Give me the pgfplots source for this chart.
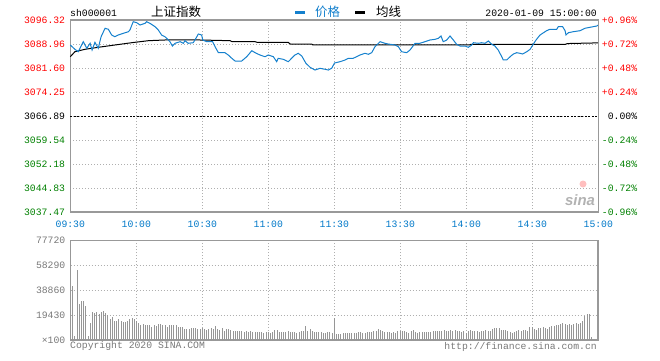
\documentclass[border=0pt]{standalone}
\usepackage{pgfplots}
\pgfplotsset{compat=1.18}
\usepackage{fontspec}
\setmainfont{Liberation Sans}
\newfontfamily\mono{Liberation Mono}
\newfontfamily\cjk{Noto Sans CJK SC}
\definecolor{sred}{RGB}{255,0,0}
\definecolor{sgreen}{RGB}{0,128,0}
\definecolor{sblue}{RGB}{20,128,205}
\definecolor{tblue}{RGB}{0,120,200}
\definecolor{fgray}{RGB}{153,153,153}
\definecolor{ggray}{RGB}{175,175,175}
\definecolor{vgray}{RGB}{150,150,150}
\definecolor{lgray}{RGB}{120,120,120}
\newcommand{\mf}{\mono\fontsize{9.8}{11}\selectfont}
\begin{document}
\begin{tikzpicture}[x=1bp,y=1bp]
\path[use as bounding box] (0,0) rectangle (660,360);
% price axis (left)
\begin{axis}[
  at={(70.3bp,148bp)}, anchor=south west, scale only axis,
  width=528bp, height=192bp,
  xmin=0, xmax=240, ymin=3037.47, ymax=3096.32,
  axis line style={draw=fgray, line width=1.4bp},
  major tick length=0pt,
  xtick={0,30,60,90,120,150,180,210,240},
  xticklabels={09:30,10:00,10:30,11:00,11:30,13:30,14:00,14:30,15:00},
  xticklabel style={font=\mf, text=tblue, inner sep=0pt, yshift=-8.5bp},
  ytick={3037.47,3044.83,3052.18,3059.54,3066.89,3074.25,3081.60,3088.96,3096.32},
  yticklabels={\textcolor{sgreen}{3037.47},\textcolor{sgreen}{3044.83},\textcolor{sgreen}{3052.18},\textcolor{sgreen}{3059.54},\textcolor{black}{3066.89},\textcolor{sred}{3074.25},\textcolor{sred}{3081.60},\textcolor{sred}{3088.96},\textcolor{sred}{3096.32}},
  yticklabel style={font=\mf, inner sep=0pt, xshift=-5bp},
  xmajorgrids, ymajorgrids,
  grid style={draw=ggray, line width=0.9bp, dash pattern=on 1bp off 2bp},
  clip=false,
]
\draw[black, line width=0.9bp, dash pattern=on 2bp off 1.5bp] (axis cs:0,3066.89) -- (axis cs:240,3066.89);
\addplot[black, line width=1bp] coordinates {
(0,3085.07) (2.1,3086.60) (6.7,3087.34) (12.7,3087.95) (20.3,3088.66) (27.9,3089.36) (35.5,3089.98) (43.0,3090.19) (59,3090.19) (72.6,3089.98) (73.5,3089.67) (84.0,3089.67) (84.9,3089.48) (99.0,3089.48) (100,3088.96) (109.7,3088.96) (110.3,3088.66) (181.7,3088.66) (182,3088.87) (225,3088.87) (226,3089.10) (240,3089.31)
};
\addplot[sblue, line width=1bp] coordinates {
(0,3088.66) (2.1,3087.34) (3.6,3086.60) (5.9,3089.67) (7.5,3087.65) (9.0,3089.18) (9.9,3087.12) (11.2,3089.48) (12.7,3087.65) (14.0,3091.20) (15.8,3093.78) (17.3,3093.47) (18.8,3091.72) (20.3,3091.20) (21.8,3091.72) (24.1,3092.24) (26.4,3092.73) (27.1,3093.26) (28.6,3095.80) (30.2,3095.49) (31.7,3094.79) (34.0,3095.31) (34.7,3095.80) (36.2,3095.31) (38.5,3094.27) (40.0,3093.26) (41.5,3091.72) (43.0,3091.20) (43.8,3090.71) (45.3,3089.67) (46.4,3088.35) (47.6,3089.18) (49.9,3089.67) (51.4,3089.18) (52.1,3089.98) (53.6,3089.18) (55.9,3089.36) (57.1,3090.71) (58.2,3092.03) (59.7,3091.72) (60.2,3090.19) (62.0,3089.67) (64.7,3089.67) (66.2,3087.65) (67.3,3086.30) (70.3,3086.30) (71.8,3085.59) (73.4,3084.58) (74.9,3083.75) (77.9,3083.75) (80.2,3085.07) (82.5,3086.91) (84.0,3086.30) (86.2,3085.59) (88.5,3085.07) (90.0,3085.59) (92.3,3085.07) (93.8,3083.54) (94.5,3084.58) (96.8,3084.27) (99.1,3083.54) (100.6,3084.58) (102.1,3085.59) (103.6,3086.11) (105.2,3085.29) (107.1,3083.05) (109.0,3081.82) (111.2,3080.99) (113.5,3081.51) (115.8,3081.21) (117.3,3080.99) (118.8,3081.51) (120.1,3083.14) (122.6,3083.54) (124.9,3084.06) (126.4,3084.58) (128.6,3084.58) (131.7,3085.59) (133.9,3086.11) (135.5,3085.81) (137.0,3086.30) (138.5,3088.14) (140.8,3089.67) (143.0,3089.18) (144.5,3088.96) (147.6,3088.66) (149.1,3088.14) (150.6,3086.60) (152.9,3086.30) (154.4,3087.12) (156.7,3089.18) (158.9,3089.18) (161.2,3089.67) (163.5,3090.19) (165.8,3090.40) (167.3,3090.71) (168.5,3091.42) (169.5,3089.67) (171.1,3090.19) (172.6,3091.42) (174.1,3090.19) (175.6,3088.87) (177.1,3088.35) (179.4,3088.35) (180.9,3087.95) (182.5,3088.66) (183.2,3089.36) (185.5,3089.18) (187.0,3089.36) (188.5,3089.18) (190.0,3089.88) (191.5,3088.87) (193.0,3088.35) (194.5,3087.12) (196.1,3085.07) (196.8,3084.06) (198.4,3084.06) (199.9,3085.07) (201.4,3085.90) (202.9,3086.30) (204.4,3086.11) (205.6,3085.90) (207.5,3086.60) (209.0,3087.34) (210.2,3088.66) (211.7,3090.19) (213.5,3091.72) (216.5,3093.04) (218.0,3093.47) (221.1,3093.47) (221.8,3094.27) (223.8,3094.27) (224.9,3093.04) (225.3,3091.72) (226.4,3092.43) (228.6,3092.73) (231.7,3093.04) (233.9,3093.78) (236.2,3094.08) (239.3,3094.48) (240.0,3094.79)
};
\end{axis}
% percent axis (right)
\begin{axis}[
  at={(70.3bp,148bp)}, anchor=south west, scale only axis,
  width=528bp, height=192bp,
  xmin=0, xmax=240, ymin=-0.96, ymax=0.96,
  hide x axis, axis y line*=right,
  axis line style={draw=fgray, line width=1.4bp},
  major tick length=0pt,
  ytick={-0.96,-0.72,-0.48,-0.24,0,0.24,0.48,0.72,0.96},
  yticklabels={\textcolor{sgreen}{-0.96\%},\textcolor{sgreen}{-0.72\%},\textcolor{sgreen}{-0.48\%},\textcolor{sgreen}{-0.24\%},\textcolor{black}{0.00\%},\textcolor{sred}{+0.24\%},\textcolor{sred}{+0.48\%},\textcolor{sred}{+0.72\%},\textcolor{sred}{+0.96\%}},
  yticklabel style={font=\mf, inner sep=0pt, anchor=east, xshift=39bp},
]
\end{axis}
% volume axis
\begin{axis}[
  at={(70.5bp,20bp)}, anchor=south west, scale only axis,
  width=527.5bp, height=99.5bp,
  xmin=0, xmax=240, ymin=0, ymax=77720,
  axis line style={draw=fgray, line width=1.4bp},
  major tick length=0pt,
  xtick={30,60,90,120,150,180,210}, xticklabels={},
  ytick={0,19430,38860,58290,77720},
  yticklabels={×100,19430,38860,58290,77720},
  yticklabel style={font=\mf, text=lgray, inner sep=0pt, xshift=-5bp},
  xmajorgrids, ymajorgrids,
  grid style={draw=ggray, line width=0.9bp, dash pattern=on 1bp off 2bp},
  scaled y ticks=false,
]
\addplot[ycomb, draw=vgray, line width=1bp, mark=none] coordinates {
(0,77720) (1,42490) (2,2850) (3,54920) (4,28240) (5,30830) (6,30830) (7,26940) (8,2850) (9,12950) (10,21500) (11,20730) (12,21500) (13,20470) (14,21500) (15,22280) (16,20730) (17,19170) (18,16060) (19,17620) (20,14510) (21,14510) (22,16060) (23,14510) (24,13730) (25,13730) (26,15030) (27,16060) (28,16840) (29,16060) (30,14510) (31,12950) (32,11400) (33,12690) (34,11920) (35,11400) (36,11400) (37,10100) (38,11920) (39,10620) (40,12690) (41,12690) (42,11400) (43,11400) (44,10100) (45,11400) (46,11920) (47,11400) (48,11400) (49,10100) (50,9840) (51,9840) (52,8290) (53,8290) (54,8810) (55,9330) (56,9590) (57,9590) (58,8290) (59,8290) (60,9070) (61,8810) (62,8030) (63,8550) (64,9070) (65,8810) (66,10620) (67,8550) (68,8030) (69,9330) (70,6990) (71,8810) (72,8290) (73,8030) (74,7250) (75,7250) (76,7250) (77,6990) (78,7250) (79,6220) (80,7250) (81,6220) (82,6740) (83,6480) (84,6220) (85,5960) (86,5960) (87,5960) (88,5700) (89,6220) (90,6480) (91,5700) (92,6220) (93,8030) (94,7510) (95,6220) (96,5960) (97,5960) (98,6220) (99,7250) (100,6220) (101,6220) (102,5960) (103,5700) (104,6220) (105,6740) (106,6740) (107,10620) (108,6990) (109,8290) (110,6990) (111,6480) (112,6220) (113,6220) (114,6480) (115,5700) (116,5700) (117,6220) (118,6220) (119,5700)
(120,17100) (121,4660) (122,4400) (123,4660) (124,5180) (125,5180) (126,5700) (127,5700) (128,5700) (129,5440) (130,5700) (131,5960) (132,6480) (133,5700) (134,5700) (135,6220) (136,5960) (137,6480) (138,6740) (139,6990) (140,8290) (141,8030) (142,7250) (143,6220) (144,5960) (145,5960) (146,5700) (147,5960) (148,5700) (149,6990) (150,6990) (151,6740) (152,6740) (153,6220) (154,5700) (155,6740) (156,7510) (157,5960) (158,5700) (159,6220) (160,6480) (161,6480) (162,6220) (163,6480) (164,5960) (165,6740) (166,7250) (167,7250) (168,6990) (169,6740) (170,7510) (171,6740) (172,7250) (173,7770) (174,7250) (175,7510) (176,6990) (177,6740) (178,6480) (179,6990) (180,5700) (181,7250) (182,7770) (183,7250) (184,6740) (185,6740) (186,6480) (187,6740) (188,6740) (189,7510) (190,6990) (191,6740) (192,8290) (193,9070) (194,9070) (195,9590) (196,7770) (197,7770) (198,7510) (199,6990) (200,6220) (201,5700) (202,6480) (203,6990) (204,7770) (205,6990) (206,7770) (207,8030) (208,6990) (209,10100) (210,9840) (211,8810) (212,8030) (213,9070) (214,9590) (215,9840) (216,9330) (217,8810) (218,9840) (219,10880) (220,11140) (221,11400) (222,11400) (223,12440) (224,12950) (225,12180) (226,11920) (227,12440) (228,11400) (229,12440) (230,13470) (231,12690) (232,13470) (233,14510) (234,18910) (235,19950) (236,19950) (237,2070)
};
\end{axis}
% header
\node[anchor=base west, inner sep=0pt, font=\mf] at (70,343.5) {sh000001};
\node[anchor=base west, inner sep=0pt, font={\cjk\fontsize{12.5}{13}\selectfont}] at (151,343.5) {上证指数};
\fill[sblue] (295,346) rectangle (305,348.5);
\node[anchor=base west, inner sep=0pt, font={\cjk\fontsize{12.5}{13}\selectfont}, text=sblue] at (315,343.5) {价格};
\fill[black] (355,346) rectangle (365,348.5);
\node[anchor=base west, inner sep=0pt, font={\cjk\fontsize{12.5}{13}\selectfont}] at (376,343.5) {均线};
\node[anchor=base east, inner sep=0pt, font=\mf] at (597,344) {2020-01-09 15:00:00};
% footer
\node[anchor=base west, inner sep=0pt, font=\mf, text=lgray] at (70,11.5) {Copyright 2020 SINA.COM};
\node[anchor=base east, inner sep=0pt, font=\mf, text=lgray] at (597,11) {http://finance.sina.com.cn};
% watermark
\fill[red!25] (583,176) circle (3.5);
\node[anchor=base, inner sep=0pt, font={\fontsize{15}{16}\selectfont\bfseries\itshape}, text=black!30] at (580,155) {sina};
\end{tikzpicture}
\end{document}
